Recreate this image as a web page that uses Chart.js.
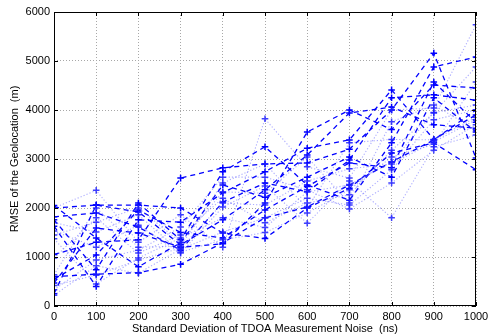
<!DOCTYPE html>
<html><head><meta charset="utf-8">
<script src="https://cdn.jsdelivr.net/npm/chart.js@4"></script>
<style>html,body{margin:0;padding:0;background:#fff}#wrap{width:501px;height:336px}</style>
</head><body><div id="wrap"><canvas id="c" width="501" height="336"></canvas></div>
<script>
const noiseLevels = [0,100,200,300,400,500,600,700,800,900,1000];
const xTicks = [0,100,200,300,400,500,600,700,800,900,1000];
const yTicks = [0,1000,2000,3000,4000,5000,6000];

// dashed runs
const dashed1  = [600, 650, 680, 850, 1290, 1800, 2020, 2470, 2940, 3390, 4000];
const dashed2  = [1050, 1300, 1350, 2610, 2820, 2900, 2920, 3200, 4000, 5160, 3020];
const dashed3  = [2000, 2060, 2060, 2000, 1490, 1380, 2000, 2400, 3120, 3330, 2780];
const dashed4  = [1820, 1900, 1610, 1140, 2120, 2510, 2330, 2980, 4250, 4310, 4200];
const dashed5  = [250, 2060, 1920, 1250, 1760, 2370, 3080, 3940, 4060, 3700, 3630];
const dashed6  = [1760, 740, 2100, 1350, 2740, 3250, 2470, 2160, 3330, 4880, 5080];
const dashed7  = [470, 1590, 1490, 1200, 1270, 2100, 3550, 4000, 3600, 4510, 4450];
const dashed8  = [2050, 1390, 800, 1290, 2470, 2220, 2630, 3040, 2630, 4250, 3550];
const dashed9  = [1630, 400, 1760, 1710, 2310, 2740, 3220, 3390, 4410, 3400, 3900];
const dashed10 = [550, 1040, 1960, 1500, 1390, 1960, 2440, 2920, 2820, 4570, 3750];
// dotted runs
const dotted1  = [2000, 2360, 1300, 1860, 1200, 3820, 2840, 2610, 4000, 4040, 5740];
const dotted2  = [1530, 1200, 1650, 1080, 2020, 2450, 1690, 2550, 1800, 3250, 3490];
const dotted3  = [330, 940, 1140, 1610, 2630, 2630, 2370, 1980, 2510, 3180, 3700];
const dotted4  = [980, 1800, 1080, 1450, 2200, 1700, 2100, 2270, 3180, 3940, 4880];
const dotted5  = [220, 820, 670, 1160, 1510, 1800, 2200, 2060, 2780, 3800, 4000];
const dotted6  = [1700, 1510, 1860, 1100, 1350, 1500, 1900, 2370, 3040, 3300, 4570];
const dotted7  = [420, 630, 940, 1180, 2100, 2060, 2550, 2800, 2900, 3350, 3800];
const dotted8  = [1450, 1710, 2000, 1300, 2330, 2300, 3040, 2100, 3760, 4100, 3600];
const dotted9  = [1370, 450, 980, 1390, 1800, 1600, 2330, 2470, 2940, 3950, 4100];
const dotted10 = [640, 2000, 1200, 1220, 2510, 2900, 2000, 3330, 3400, 3390, 3850];

const dashedRuns = [dashed1,dashed2,dashed3,dashed4,dashed5,dashed6,dashed7,dashed8,dashed9,dashed10];
const dottedRuns = [dotted1,dotted2,dotted3,dotted4,dotted5,dotted6,dotted7,dotted8,dotted9,dotted10];

const toPts = arr => arr.map((v,i)=>({x:noiseLevels[i], y:v}));
const datasets = [];
dottedRuns.forEach(r => datasets.push({
  data: toPts(r), borderColor:'rgba(90,90,255,0.5)', borderWidth:1.1, borderDash:[1.2,2],
  pointStyle:'cross', pointRadius:3.3, pointBorderWidth:1.5, pointBorderColor:'rgba(30,30,255,0.85)',
  pointBackgroundColor:'rgba(0,0,0,0)', fill:false, tension:0
}));
dashedRuns.forEach(r => datasets.push({
  data: toPts(r), borderColor:'#0000ff', borderWidth:1.3, borderDash:[5,4],
  pointStyle:'cross', pointRadius:3.3, pointBorderWidth:1.5, pointBorderColor:'#0000ff',
  pointBackgroundColor:'rgba(0,0,0,0)', fill:false, tension:0
}));

const boxPlugin = {
  id:'box',
  afterDraw(chart){
    const {ctx, chartArea:a, scales} = chart;
    ctx.save();
    ctx.strokeStyle='#000'; ctx.lineWidth=1;
    ctx.strokeRect(a.left+0.5, a.top+0.5, a.right-a.left-1, a.bottom-a.top-1);
    ctx.beginPath();
    xTicks.forEach(t=>{const p=Math.round(scales.x.getPixelForValue(t))+0.5;
      ctx.moveTo(p,a.bottom); ctx.lineTo(p,a.bottom-4); ctx.moveTo(p,a.top); ctx.lineTo(p,a.top+4);});
    yTicks.forEach(t=>{const p=Math.round(scales.y.getPixelForValue(t))+0.5;
      ctx.moveTo(a.left,p); ctx.lineTo(a.left+4,p); ctx.moveTo(a.right,p); ctx.lineTo(a.right-4,p);});
    ctx.stroke();
    ctx.restore();
  }
};

const font = {family:'"Liberation Sans", Arial, sans-serif', size:11};
new Chart(document.getElementById('c'), {
  type:'line',
  data:{datasets},
  plugins:[boxPlugin],
  options:{
    responsive:false, animation:false,
    layout:{padding:{left:0,right:25,top:12,bottom:0}},
    plugins:{legend:{display:false}, tooltip:{enabled:false}},
    scales:{
      x:{type:'linear', min:0, max:1000,
        afterBuildTicks: s => { s.ticks = xTicks.map(v=>({value:v})); },
        afterFit: s => { s.height = 30; },
        grid:{color:'#a8a8a8', drawTicks:false, lineWidth:1},
        border:{display:false, dash:[1,2]},
        ticks:{font, color:'#000', padding:4, maxRotation:0, autoSkip:false, callback:v=>String(v)},
        title:{display:true, text:'Standard Deviation of TDOA Measurement Noise  (ns)', font, color:'#000', padding:{top:0,bottom:0}}
      },
      y:{type:'linear', min:0, max:6000,
        afterBuildTicks: s => { s.ticks = yTicks.map(v=>({value:v})); },
        afterFit: s => { s.width = 54; },
        grid:{color:'#a8a8a8', drawTicks:false, lineWidth:1},
        border:{display:false, dash:[1,2]},
        ticks:{font, color:'#000', padding:4, callback:v=>String(v)},
        title:{display:true, text:'RMSE of the Geolocation  (m)', font, color:'#000', padding:{top:8,bottom:0}}
      }
    }
  }
});
</script></body></html>
